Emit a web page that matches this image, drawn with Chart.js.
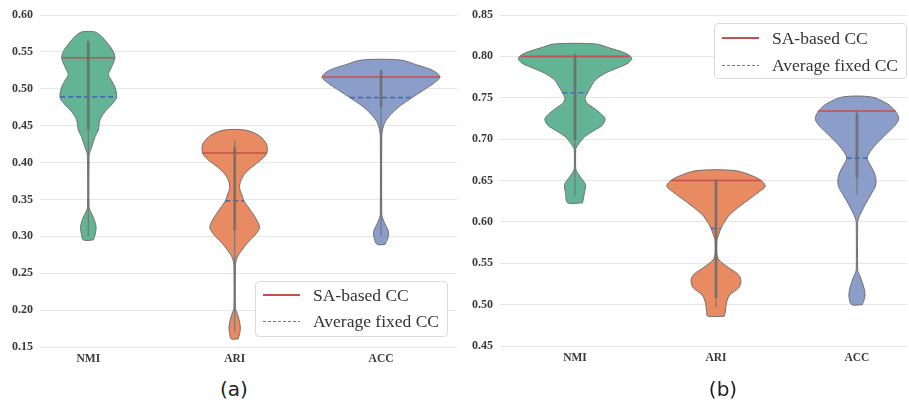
<!DOCTYPE html>
<html>
<head>
<meta charset="utf-8">
<script src="https://cdn.jsdelivr.net/npm/chart.js@4.4.1/dist/chart.umd.min.js"></script>
<style>
  body { margin: 0; width: 909px; height: 402px; background: #fff; position: relative; overflow: hidden; }
  .panel { position: absolute; top: 0; height: 375px; }
  .legend { position: absolute; width: 193px; height: 56px; box-sizing: border-box; border: 1px solid #dadada; border-radius: 4px;
            background: rgba(255,255,255,0.9); font-family: "Liberation Serif", serif; font-size: 17.5px; color: #333; }
  .row { position: absolute; left: 0; right: 0; height: 22px; }
  .row span { position: absolute; left: 57px; top: 0; line-height: 22px; white-space: nowrap; }
  .sw { position: absolute; left: 7px; width: 37px; top: 10px; height: 2px; }
  .sw.sa { background: #c4514f; }
  .sw.avg { height: 1px; top: 11px; background: repeating-linear-gradient(to right, #5a7cb8 0 3px, transparent 3px 5px); }
  .caption { position: absolute; top: 377px; width: 80px; text-align: center; font-family: "DejaVu Sans", sans-serif;
             font-size: 20px; line-height: 24px; color: #222; }
</style>
</head>
<body>
<div class="panel" style="left:0;width:462px"><canvas id="chartA"></canvas></div>
<div class="panel" style="left:455px;width:454px"><canvas id="chartB"></canvas></div>

<div class="legend" style="left:255px;top:281px">
  <div class="row" style="top:2px"><div class="sw sa"></div><span>SA-based CC</span></div>
  <div class="row" style="top:28px"><div class="sw avg"></div><span>Average fixed CC</span></div>
</div>
<div class="legend" style="left:714px;top:23px">
  <div class="row" style="top:3px"><div class="sw sa"></div><span>SA-based CC</span></div>
  <div class="row" style="top:30px"><div class="sw avg"></div><span>Average fixed CC</span></div>
</div>
<div class="caption" style="left:194px">(a)</div>
<div class="caption" style="left:683px">(b)</div>

<script>
// ---- categories and tick labels ----
const categories = ['NMI', 'ARI', 'ACC'];
const yTicksA = [0.15, 0.20, 0.25, 0.30, 0.35, 0.40, 0.45, 0.50, 0.55, 0.60];
const yTicksB = [0.45, 0.50, 0.55, 0.60, 0.65, 0.70, 0.75, 0.80, 0.85];

// ---- violin outlines: value levels and density half-widths (category units) ----
// panel (a)
const nmiA_level = [0.295,0.302,0.313,0.326,0.334,0.340,0.405,0.412,0.421,0.435,0.444,0.458,0.469,0.478,0.488,0.501,0.512,0.519,0.525,0.535,0.543,0.553,0.562,0.571,0.577];
const nmiA_half  = [0.034,0.046,0.053,0.034,0.014,0.005,0.005,0.007,0.023,0.046,0.068,0.080,0.114,0.157,0.193,0.184,0.157,0.137,0.148,0.171,0.182,0.164,0.130,0.091,0.046];
const ariA_level = [0.161,0.168,0.177,0.191,0.198,0.203,0.260,0.264,0.272,0.281,0.292,0.302,0.311,0.317,0.329,0.340,0.349,0.356,0.365,0.374,0.385,0.394,0.403,0.412,0.419,0.426,0.437,0.444];
const ariA_half  = [0.024,0.034,0.039,0.025,0.012,0.005,0.005,0.007,0.018,0.048,0.091,0.141,0.169,0.164,0.130,0.091,0.061,0.050,0.034,0.039,0.070,0.118,0.177,0.218,0.223,0.216,0.164,0.073];
const accA_level = [0.289,0.297,0.306,0.317,0.325,0.331,0.436,0.440,0.446,0.455,0.464,0.476,0.487,0.498,0.507,0.516,0.525,0.532,0.539];
const accA_half  = [0.027,0.046,0.051,0.027,0.010,0.005,0.005,0.007,0.012,0.027,0.061,0.125,0.205,0.289,0.357,0.403,0.353,0.251,0.131];
// panel (b)
const nmiB_level = [0.623,0.635,0.645,0.655,0.661,0.665,0.687,0.689,0.695,0.703,0.711,0.717,0.725,0.735,0.743,0.749,0.756,0.763,0.772,0.780,0.786,0.792,0.798,0.804,0.810,0.815];
const nmiB_half  = [0.053,0.067,0.074,0.035,0.012,0.005,0.005,0.007,0.030,0.069,0.142,0.195,0.213,0.154,0.089,0.071,0.089,0.112,0.148,0.218,0.301,0.378,0.402,0.355,0.248,0.148];
const ariB_level = [0.486,0.492,0.502,0.512,0.520,0.528,0.536,0.546,0.554,0.558,0.562,0.578,0.582,0.590,0.598,0.609,0.619,0.629,0.637,0.643,0.649,0.655,0.662];
const ariB_half  = [0.059,0.067,0.074,0.099,0.160,0.177,0.160,0.078,0.021,0.011,0.005,0.005,0.014,0.030,0.053,0.099,0.170,0.248,0.312,0.349,0.328,0.266,0.136];
const accB_level = [0.500,0.510,0.520,0.532,0.538,0.542,0.600,0.602,0.608,0.621,0.633,0.643,0.651,0.659,0.669,0.677,0.685,0.695,0.707,0.717,0.725,0.734,0.743,0.751];
const accB_half  = [0.038,0.057,0.050,0.027,0.012,0.005,0.005,0.007,0.020,0.059,0.099,0.131,0.135,0.124,0.094,0.073,0.094,0.142,0.213,0.272,0.296,0.272,0.213,0.101];

// ---- reference lines ----
const saA  = [0.542, 0.413, 0.516];   // SA-based CC
const avgA = [0.489, 0.348, 0.488];   // Average fixed CC
const saB  = [0.800, 0.650, 0.734];
const avgB = [0.756, 0.592, 0.677];

// ---- inner box: whisker range and interquartile range ----
const whiskLowA  = [0.300, 0.170, 0.300];
const whiskHighA = [0.565, 0.430, 0.525];
const boxLowA    = [0.444, 0.308, 0.476];
const boxHighA   = [0.564, 0.421, 0.525];
const whiskLowB  = [0.632, 0.497, 0.633];
const whiskHighB = [0.804, 0.652, 0.735];
const boxLowB    = [0.699, 0.508, 0.653];
const boxHighB   = [0.800, 0.649, 0.731];

const fills = ['#62b495', '#e88a62', '#8b9dc9'];

function outline(center, levels, halfs) {
  const pts = [];
  for (let i = 0; i < levels.length; i++) pts.push({ x: center + halfs[i], y: levels[i] });
  for (let i = levels.length - 1; i >= 0; i--) pts.push({ x: center - halfs[i], y: levels[i] });
  pts.push({ x: center + halfs[0], y: levels[0] });
  return pts;
}

function halfAt(levels, halfs, v) {
  if (v <= levels[0]) return halfs[0];
  for (let i = 1; i < levels.length; i++) {
    if (v <= levels[i]) {
      const t = (v - levels[i - 1]) / (levels[i] - levels[i - 1]);
      return halfs[i - 1] + t * (halfs[i] - halfs[i - 1]);
    }
  }
  return halfs[halfs.length - 1];
}

function segment(points, color, width, dash, order) {
  return { data: points, borderColor: color, borderWidth: width, borderDash: dash || [], pointRadius: 0,
           fill: false, tension: 0, order: order };
}

function buildPanel(id, p) {
  const datasets = [];
  p.shapes.forEach((s, i) => {
    datasets.push({ data: outline(i, s[0], s[1]), fill: 'shape', backgroundColor: fills[i], borderColor: '#707070',
                    borderWidth: 1, pointRadius: 0, tension: 0.3, order: 3 });
    const hs = halfAt(s[0], s[1], p.sa[i]);
    const ha = halfAt(s[0], s[1], p.avg[i]);
    datasets.push(segment([{ x: i - hs, y: p.sa[i] }, { x: i + hs, y: p.sa[i] }], '#c4514f', 1.6, null, 1));
    datasets.push(segment([{ x: i - ha, y: p.avg[i] }, { x: i + ha, y: p.avg[i] }], '#4a6fb0', 1.6, [5, 3], 1));
    datasets.push(segment([{ x: i, y: p.wLow[i] }, { x: i, y: p.wHigh[i] }], 'rgba(110,110,110,0.8)', 1.2, null, 0));
    datasets.push(segment([{ x: i, y: p.bLow[i] }, { x: i, y: p.bHigh[i] }], 'rgba(105,105,105,0.75)', 2.8, null, 0));
  });

  return new Chart(document.getElementById(id), {
    type: 'line',
    data: { datasets },
    options: {
      responsive: true, maintainAspectRatio: false, animation: false, devicePixelRatio: 1, events: [],
      layout: { padding: { top: 15, right: p.padRight, left: 0, bottom: 0 } },
      plugins: { legend: { display: false }, tooltip: { enabled: false } },
      scales: {
        x: {
          type: 'linear', min: p.xMin, max: p.xMax,
          afterBuildTicks: s => { s.ticks = categories.map((c, i) => ({ value: i })); },
          afterFit: s => { s.height = p.xAxisHeight; },
          grid: { display: false }, border: { display: false },
          ticks: { autoSkip: false, maxRotation: 0, minRotation: 0, padding: -3, color: '#3a3a3a',
                   font: { family: 'Liberation Serif', weight: 'bold', size: 11.5 },
                   callback: v => categories[v] }
        },
        y: {
          type: 'linear', min: p.ticks[0], max: p.ticks[p.ticks.length - 1],
          afterBuildTicks: s => { s.ticks = p.ticks.map(v => ({ value: v })); },
          afterFit: s => { s.width = p.yAxisWidth; },
          grid: { color: '#e6e6e6', lineWidth: 1, drawTicks: false }, border: { display: false },
          ticks: { padding: 7, color: '#3a3a3a', font: { family: 'Liberation Serif', weight: 'bold', size: 12 },
                   callback: v => v.toFixed(2) }
        }
      }
    }
  });
}

buildPanel('chartA', {
  shapes: [[nmiA_level, nmiA_half], [ariA_level, ariA_half], [accA_level, accA_half]],
  sa: saA, avg: avgA, wLow: whiskLowA, wHigh: whiskHighA, bLow: boxLowA, bHigh: boxHighA,
  ticks: yTicksA, xMin: -0.330, xMax: 2.519, yAxisWidth: 40, xAxisHeight: 28, padRight: 5
});
buildPanel('chartB', {
  shapes: [[nmiB_level, nmiB_half], [ariB_level, ariB_half], [accB_level, accB_half]],
  sa: saB, avg: avgB, wLow: whiskLowB, wHigh: whiskHighB, bLow: boxLowB, bHigh: boxHighB,
  ticks: yTicksB, xMin: -0.532, xMax: 2.355, yAxisWidth: 45, xAxisHeight: 29, padRight: 2
});
</script>
</body>
</html>
